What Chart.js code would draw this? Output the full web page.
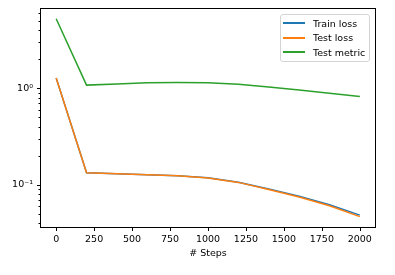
<!DOCTYPE html>
<html>
<head>
<meta charset="utf-8">
<script src="https://cdn.jsdelivr.net/npm/chart.js@4"></script>
<style>
  body { margin: 0; background: #fff; }
  #wrap { position: relative; width: 395px; height: 275px; }
  #legend {
    position: absolute; left: 280px; top: 14px; width: 88px; height: 46px;
    border: 1px solid #d4d4d4; border-radius: 3px; background: rgba(255,255,255,0.8);
    font-family: "DejaVu Sans", sans-serif; font-size: 9.5px; color: #000;
  }
  .row { position: absolute; left: 0; height: 12px; display: flex; align-items: center; }
  .swatch { width: 22px; height: 2px; margin-left: 2px; margin-right: 8px; }
</style>
</head>
<body>
<div id="wrap">
  <canvas id="chart" width="395" height="275"></canvas>
  <div id="legend"></div>
</div>
<script>
// Data
const steps = [0, 200, 400, 600, 800, 1000, 1200, 1400, 1600, 1800, 2000];
const trainLoss = [1.28, 0.134, 0.131, 0.128, 0.125, 0.119, 0.107, 0.091, 0.0765, 0.0625, 0.0488];
const testLoss = [1.28, 0.134, 0.1305, 0.1275, 0.1245, 0.1185, 0.1065, 0.090, 0.0752, 0.061, 0.0471];
const testMetric = [5.25, 1.08, 1.11, 1.14, 1.15, 1.145, 1.10, 1.03, 0.96, 0.89, 0.825];

const seriesLabels = ['Train loss', 'Test loss', 'Test metric'];
const seriesColors = ['#1f77b4', '#ff7f0e', '#2ca02c'];

const xTicks = [0, 250, 500, 750, 1000, 1250, 1500, 1750, 2000];
const yMajorTicks = [0.1, 1];
const yMajorLabels = ['10\u207B\u00B9', '10\u2070'];
const yMinorTicks = [0.04, 0.05, 0.06, 0.07, 0.08, 0.09, 0.2, 0.3, 0.4, 0.5, 0.6, 0.7, 0.8, 0.9, 2, 3, 4, 5, 6];

const FONT = { family: 'DejaVu Sans', size: 9.5 };

function pts(values) {
    return steps.map((s, i) => ({ x: s, y: values[i] }));
}

// frame + outward tick marks, matplotlib style
const axesPlugin = {
    id: 'axesFrame',
    afterDraw(chart) {
        const { ctx, chartArea: a, scales } = chart;
        ctx.save();
        ctx.strokeStyle = '#000';
        ctx.lineWidth = 1;
        ctx.strokeRect(Math.round(a.left) - 0.5, Math.round(a.top) - 0.5,
            Math.round(a.right - a.left) + 1, Math.round(a.bottom - a.top) + 1);
        ctx.beginPath();
        scales.x.ticks.forEach(t => {
            const px = Math.round(scales.x.getPixelForValue(t.value)) + 0.5;
            ctx.moveTo(px, a.bottom);
            ctx.lineTo(px, a.bottom + 4);
        });
        scales.y.ticks.forEach(t => {
            const py = Math.round(scales.y.getPixelForValue(t.value)) + 0.5;
            const len = yMajorTicks.includes(t.value) ? 4 : 2.5;
            ctx.moveTo(a.left, py);
            ctx.lineTo(a.left - len, py);
        });
        ctx.stroke();
        ctx.restore();
    }
};

const datasets = [trainLoss, testLoss, testMetric].map((vals, i) => ({
    label: seriesLabels[i],
    data: pts(vals),
    borderColor: seriesColors[i],
    backgroundColor: seriesColors[i],
    borderWidth: 1.5,
    pointRadius: 0,
    tension: 0,
    order: 2 - i
}));

new Chart(document.getElementById('chart'), {
    type: 'line',
    data: { datasets },
    options: {
        responsive: false,
        animation: false,
        layout: { padding: { left: 0, top: 9, right: 20, bottom: 16 } },
        plugins: { legend: { display: false }, tooltip: { enabled: false } },
        scales: {
            x: {
                type: 'linear',
                min: -100,
                max: 2100,
                grid: { display: false, drawTicks: false },
                border: { display: false },
                ticks: { color: '#000', font: FONT, padding: 7, maxRotation: 0, callback: v => String(v) },
                title: { display: true, text: '# Steps', color: '#000', font: FONT, padding: 0 },
                afterBuildTicks: s => { s.ticks = xTicks.map(v => ({ value: v })); },
                afterFit: s => { s.height = 32; s.paddingLeft = 0; s.paddingRight = 0; }
            },
            y: {
                type: 'logarithmic',
                min: 0.0368,
                max: 6.62,
                grid: { display: false, drawTicks: false },
                border: { display: false },
                ticks: {
                    color: '#000', font: FONT, padding: 8, autoSkip: false,
                    callback: v => {
                        const k = yMajorTicks.indexOf(v);
                        return k >= 0 ? yMajorLabels[k] : '';
                    }
                },
                afterBuildTicks: s => {
                    s.ticks = yMinorTicks.concat(yMajorTicks).sort((a, b) => a - b)
                        .map(v => ({ value: v, major: yMajorTicks.includes(v) }));
                },
                afterFit: s => { s.width = 41; s.paddingTop = 0; s.paddingBottom = 0; }
            }
        }
    },
    plugins: [axesPlugin]
});

// legend box inside the plot, like matplotlib's
const legend = document.getElementById('legend');
seriesLabels.forEach((lab, i) => {
    const row = document.createElement('div');
    row.className = 'row';
    row.style.top = (2 + i * 14.6) + 'px';
    const sw = document.createElement('span');
    sw.className = 'swatch';
    sw.style.background = seriesColors[i];
    const tx = document.createElement('span');
    tx.textContent = lab;
    row.appendChild(sw);
    row.appendChild(tx);
    legend.appendChild(row);
});
</script>
</body>
</html>
